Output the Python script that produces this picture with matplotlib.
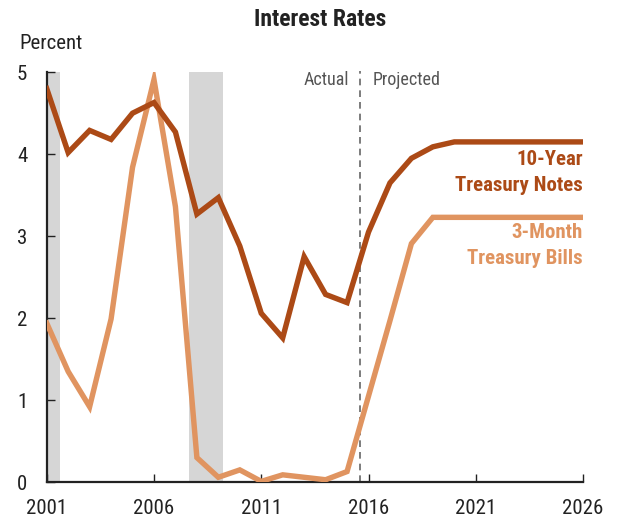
"""Interest Rates: 10-year notes vs 3-month bills, actual and projected."""

import matplotlib
matplotlib.use("Agg")
import matplotlib.pyplot as plt

plt.rcParams["font.family"] = ["Roboto Condensed", "DejaVu Sans"]

# data
years = list(range(2001, 2027))
notes_10y = [4.80, 4.02, 4.29, 4.18, 4.50, 4.63, 4.27, 3.27, 3.47, 2.88, 2.06,
             1.76, 2.75, 2.29, 2.19, 3.05, 3.65, 3.95, 4.09, 4.15, 4.15, 4.15,
             4.15, 4.15, 4.15, 4.15]
bills_3m = [1.94, 1.35, 0.92, 1.99, 3.84, 4.91, 3.36, 0.30, 0.06, 0.15, 0.01,
            0.09, 0.06, 0.03, 0.13, 1.05, 1.97, 2.91, 3.23, 3.23, 3.23, 3.23,
            3.23, 3.23, 3.23, 3.23]
recessions = [(2001.0, 2001.62), (2007.65, 2009.2)]
split_year = 2015.6
xticks = [2001, 2006, 2011, 2016, 2021, 2026]

DARK = "#ac4a16"
LIGHT = "#e09460"
INK = "#222222"

fig = plt.figure(figsize=(6.4, 5.27), dpi=100)
ax = fig.add_axes([0.073, 0.085, 0.838, 0.778])

for x0, x1 in recessions:
    ax.axvspan(x0, x1, color="#d6d6d6", lw=0, zorder=0)

# dashed divider between actual and projected
ax.plot([split_year, split_year], [0, 5.02], color="#666666", lw=1.2,
        ls=(0, (4, 3)), zorder=1, clip_on=False)

ax.plot(years, bills_3m, color=LIGHT, lw=3.9, solid_joinstyle="miter", zorder=3)
ax.plot(years, notes_10y, color=DARK, lw=3.9, solid_joinstyle="miter", zorder=4)

ax.set_xlim(2001, 2026)
ax.set_ylim(0, 5)
ax.set_xticks(xticks)
ax.set_yticks(range(0, 6))
ax.tick_params(direction="in", length=6, width=1, labelsize=15, colors=INK)
ax.tick_params(axis="x", pad=12)
ax.tick_params(axis="y", pad=14)
for s in ["top", "right"]:
    ax.spines[s].set_visible(False)
for s in ["left", "bottom"]:
    ax.spines[s].set_linewidth(1.6)
    ax.spines[s].set_color(INK)

ax.text(split_year - 0.5, 4.9, "Actual", ha="right", va="center",
        fontsize=13, color="#555555")
ax.text(split_year + 0.6, 4.9, "Projected", ha="left", va="center",
        fontsize=13, color="#555555")

ax.text(2026, 3.93, "10-Year", ha="right", va="center", fontsize=15,
        fontweight="bold", color=DARK)
ax.text(2026, 3.62, "Treasury Notes", ha="right", va="center", fontsize=15,
        fontweight="bold", color=DARK)
ax.text(2026, 3.04, "3-Month", ha="right", va="center", fontsize=15,
        fontweight="bold", color=LIGHT)
ax.text(2026, 2.73, "Treasury Bills", ha="right", va="center", fontsize=15,
        fontweight="bold", color=LIGHT)

fig.text(0.5, 0.963, "Interest Rates", ha="center", va="center",
         fontsize=17, fontweight="bold", color=INK)
fig.text(0.03, 0.918, "Percent", ha="left", va="center", fontsize=15,
         color=INK)

fig.savefig("out.png", dpi=100)
